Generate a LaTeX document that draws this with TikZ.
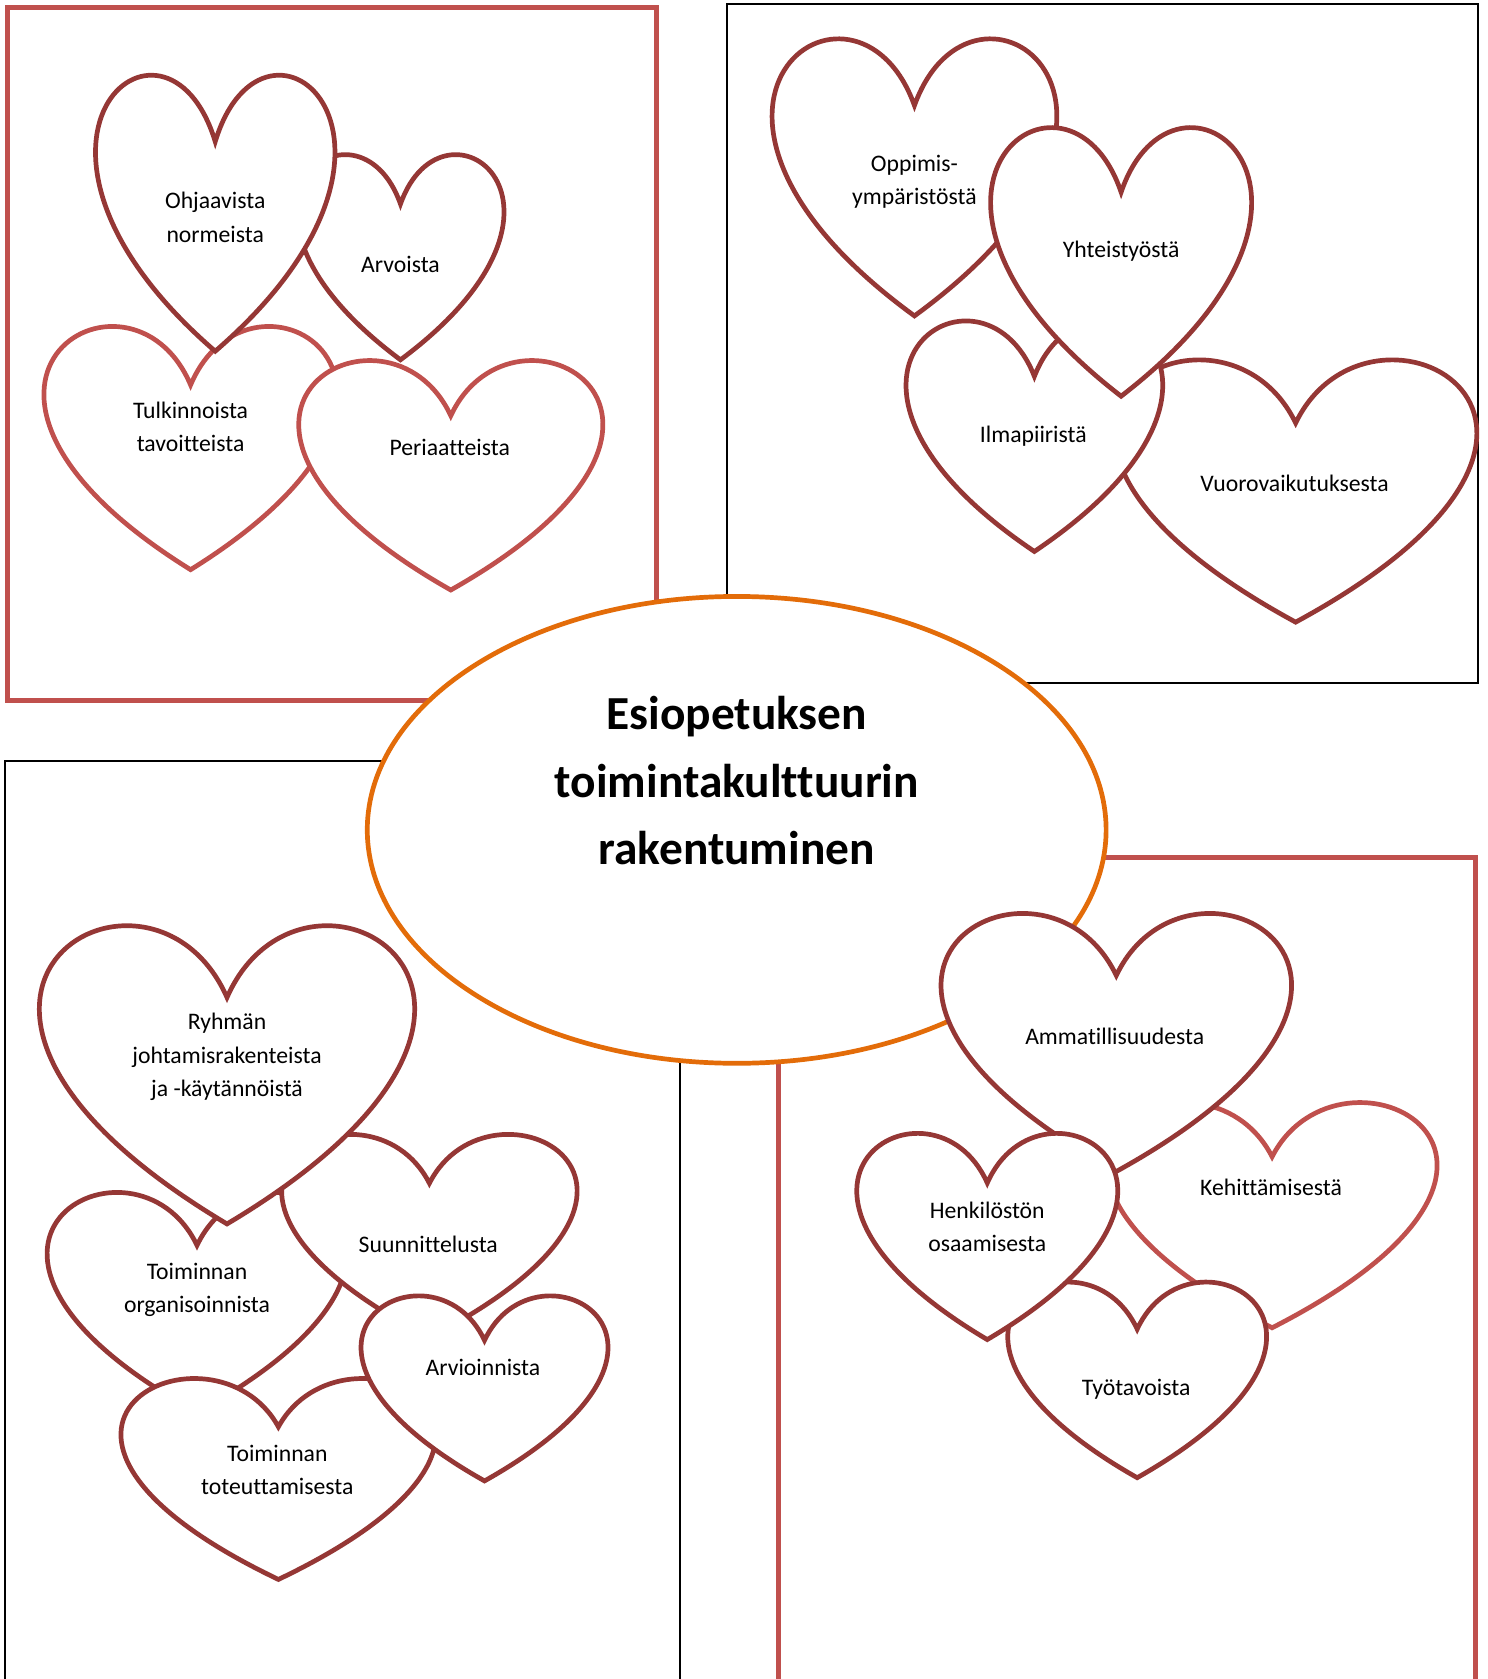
\documentclass[tikz,border=0pt]{standalone}
\usepackage{fontspec}
\setmainfont{Carlito}[Ligatures=NoCommon]
\usetikzlibrary{shapes.geometric}
\definecolor{hdark}{HTML}{953735}
\definecolor{hlight}{HTML}{C0504D}
\definecolor{ellorange}{HTML}{E36C09}
\newcommand\drawheart[5]{%
 \pgfmathsetmacro\hrtc{(#2+#3)/2}%
 \pgfmathsetmacro\hrtw{#3-#2}%
 \pgfmathsetmacro\hrth{#5-#4}%
 \pgfmathsetmacro\hrtn{#4+\hrth/4}%
 \pgfmathsetmacro\hrtt{#4-\hrth/3}%
 \pgfmathsetmacro\hrtxa{\hrtc+0.2083333*\hrtw}%
 \pgfmathsetmacro\hrtxb{\hrtc+1.0208333*\hrtw}%
 \pgfmathsetmacro\hrtxc{\hrtc-1.0208333*\hrtw}%
 \pgfmathsetmacro\hrtxd{\hrtc-0.2083333*\hrtw}%
 \draw[#1] (\hrtc,\hrtn) .. controls (\hrtxa,\hrtt) and (\hrtxb,\hrtn) .. (\hrtc,#5)
   .. controls (\hrtxc,\hrtn) and (\hrtxd,\hrtt) .. (\hrtc,\hrtn) -- cycle;%
}
\tikzset{
  heartdark/.style={draw=hdark, fill=white, line width=1.25pt, line join=miter},
  heartlight/.style={draw=hlight, fill=white, line width=1.25pt, line join=miter},
  redbox/.style={draw=hlight, line width=1.2pt},
  blackbox/.style={draw=black, line width=0.6pt},
  lbl/.style={font=\fontsize{6.3}{8.8}\selectfont, align=center, inner sep=0pt},
  ttl/.style={font=\fontsize{12.6}{17.9}\selectfont\bfseries, align=center, inner sep=0pt},
}
\begin{document}
\begin{tikzpicture}[x=0.1mm, y=-0.1mm]
\useasboundingbox (0,0) rectangle (1389,1568);
\clip (0,0) rectangle (1389,1568);
% boxes
\draw[redbox] (7,7) rectangle (613,654);
\draw[blackbox] (679,4) rectangle (1380,638);
\draw[blackbox] (5,711) rectangle (635,1620);
\draw[redbox] (727,801) rectangle (1378,1620);
% central ellipse
\node[ellipse, draw=ellorange, fill=white, line width=1.25pt, minimum width=69mm, minimum height=43.6mm, inner sep=0pt] (hub) at (688,775) {};
\node[ttl] (title) at (688,729) {Esiopetuksen\\toimintakulttuurin\\rakentuminen};
% top-left hearts
\drawheart{heartdark}{278}{470}{142}{336}
\node[lbl] (arvoista) at (374,247) {Arvoista};
\drawheart{heartlight}{42}{314}{302}{532}
\node[lbl] (tulkinnoista) at (178,399) {Tulkinnoista\\tavoitteista};
\drawheart{heartdark}{90}{312}{67}{328}
\node[lbl] (ohjaavista) at (201,203) {Ohjaavista\\normeista};
\drawheart{heartlight}{280}{562}{334}{551}
\node[lbl] (periaatteista) at (420,418) {Periaatteista};
% top-right hearts
\drawheart{heartdark}{722}{986}{33}{295}
\node[lbl] (oppimis) at (854,170) {Oppimis-\\ympäristöstä};
\drawheart{heartdark}{1042}{1378}{333}{581}
\node[lbl] (vuoro) at (1209,451) {Vuorovaikutuksesta};
\drawheart{heartdark}{847}{1085}{297}{515}
\node[lbl] (ilma) at (965,407) {Ilmapiiristä};
\drawheart{heartdark}{926}{1168}{116}{370}
\node[lbl] (yhteis) at (1047,235) {Yhteistyöstä};
% bottom-left hearts
\drawheart{heartdark}{45}{323}{1111}{1319}
\node[lbl] (organ) at (184,1205) {Toiminnan\\organisoinnista};
\drawheart{heartdark}{264}{538}{1057}{1249}
\node[lbl] (suunn) at (400,1162) {Suunnittelusta};
\drawheart{heartdark}{38}{386}{861}{1143}
\node[lbl] (ryhman) at (212,987) {Ryhmän\\johtamisrakenteista\\ja -käytännöistä};
\drawheart{heartdark}{114}{406}{1285}{1475}
\node[lbl] (toteut) at (259,1373) {Toiminnan\\toteuttamisesta};
\drawheart{heartdark}{338}{567}{1208}{1383}
\node[lbl] (arvioin) at (451,1277) {Arvioinnista};
% bottom-right hearts
\drawheart{heartlight}{1035}{1341}{1027}{1240}
\node[lbl] (kehit) at (1187,1109) {Kehittämisestä};
\drawheart{heartdark}{942}{1182}{1195}{1380}
\node[lbl] (tyotav) at (1061,1297) {Työtavoista};
\drawheart{heartdark}{880}{1205}{850}{1094}
\node[lbl] (ammat) at (1041,968) {Ammatillisuudesta};
\drawheart{heartdark}{801}{1043}{1056}{1251}
\node[lbl] (henk) at (922,1146) {Henkilöstön\\osaamisesta};
\end{tikzpicture}
\end{document}
